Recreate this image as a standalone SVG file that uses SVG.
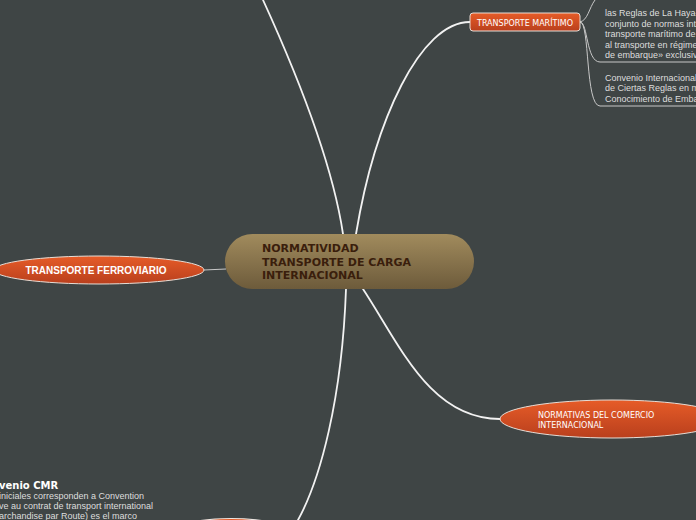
<svg xmlns="http://www.w3.org/2000/svg" width="696" height="520" viewBox="0 0 696 520">
<defs>
<linearGradient id="gCenter" x1="0" y1="0" x2="0" y2="1"><stop offset="0" stop-color="#a18b5d"/><stop offset="1" stop-color="#6d5b3b"/></linearGradient>
<linearGradient id="gOrange" x1="0" y1="0" x2="0" y2="1"><stop offset="0" stop-color="#e65c28"/><stop offset="1" stop-color="#b93f1d"/></linearGradient>
</defs>
<style>
.main{fill:none;stroke:#f2f2f2;stroke-width:1.8;stroke-linecap:round}
.thin{fill:none;stroke:#c8c8c8;stroke-width:1}
.node{fill:url(#gOrange);stroke:#e6ddd6;stroke-width:1}
.ctext{font-family:"DejaVu Sans",sans-serif;font-weight:bold;font-size:11px;fill:#3a1e0c}
.ntext{font-family:"DejaVu Sans",sans-serif;font-size:8px;fill:#ffffff}
.btext{font-family:"Liberation Sans",Arial,sans-serif;font-weight:bold;font-size:10px;fill:#ffffff}
.note{font-family:"Liberation Sans",Arial,sans-serif;font-size:9px;fill:#dedede}
.title{font-family:"DejaVu Sans",sans-serif;font-weight:bold;font-size:10px;fill:#ffffff}
</style>
<rect x="0" y="0" width="696" height="520" fill="#3f4545"/>
<g id="connectors">
<path class="main" d="M343,234 C332,160 295,70 263,0"/>
<path class="main" d="M356,234 C375,120 420,22 470,22"/>
<path class="main" d="M346,289 C342,400 320,480 298,520"/>
<path class="main" d="M363,289 C400,345 430,419 500,419"/>
<path class="thin" stroke-width="1.5" d="M204,270 L226,269"/>
<path class="thin" d="M580,22 C588,20 589,8 595,0"/>
<path class="thin" d="M580,22 C588,22 586,62 600,62 H696"/>
<path class="thin" d="M580,22 C590,22 585,106 600,106 H696"/>
</g>
<g id="center">
<rect x="225" y="234" width="249" height="55" rx="27.5" fill="url(#gCenter)"/>
<text class="ctext" x="262" y="252">NORMATIVIDAD</text>
<text class="ctext" x="262" y="265.5">TRANSPORTE DE CARGA</text>
<text class="ctext" x="262" y="279">INTERNACIONAL</text>
</g>
<g id="ferroviario">
<ellipse class="node" cx="99" cy="270" rx="105" ry="14"/>
<text class="btext" x="96" y="273.5" text-anchor="middle">TRANSPORTE FERROVIARIO</text>
</g>
<g id="maritimo">
<rect class="node" x="470" y="13" width="110" height="18" rx="3"/>
<text class="ntext" x="525" y="25.5" text-anchor="middle">TRANSPORTE MARÍTIMO</text>
</g>
<g id="haya">
<text class="note" x="605" y="16">las Reglas de La Haya-</text>
<text class="note" x="605" y="26.5">conjunto de normas int</text>
<text class="note" x="605" y="37">transporte marítimo de</text>
<text class="note" x="605" y="47.5">al transporte en régime</text>
<text class="note" x="605" y="58">de embarque» exclusiv</text>
</g>
<g id="convenio-internacional">
<text class="note" x="605" y="80.5">Convenio Internacional</text>
<text class="note" x="605" y="91">de Ciertas Reglas en m</text>
<text class="note" x="605" y="101.5">Conocimiento de Emba</text>
</g>
<g id="normativas">
<ellipse class="node" cx="612" cy="419" rx="112" ry="19"/>
<text class="ntext" x="538" y="418">NORMATIVAS DEL COMERCIO</text>
<text class="ntext" x="538" y="427.5">INTERNACIONAL</text>
</g>
<g id="cmr">
<text class="title" x="-1" y="489">venio CMR</text>
<text class="note" x="-1" y="498.5">iniciales corresponden a Convention</text>
<text class="note" x="-1" y="508.5">ve au contrat de transport international</text>
<text class="note" x="-1" y="518.5">archandise par Route) es el marco</text>
</g>
<g id="bottom-node">
<ellipse cx="231" cy="531" rx="55" ry="12.5" fill="url(#gOrange)" stroke="#ece6e2" stroke-width="1.2"/>
</g>
</svg>
